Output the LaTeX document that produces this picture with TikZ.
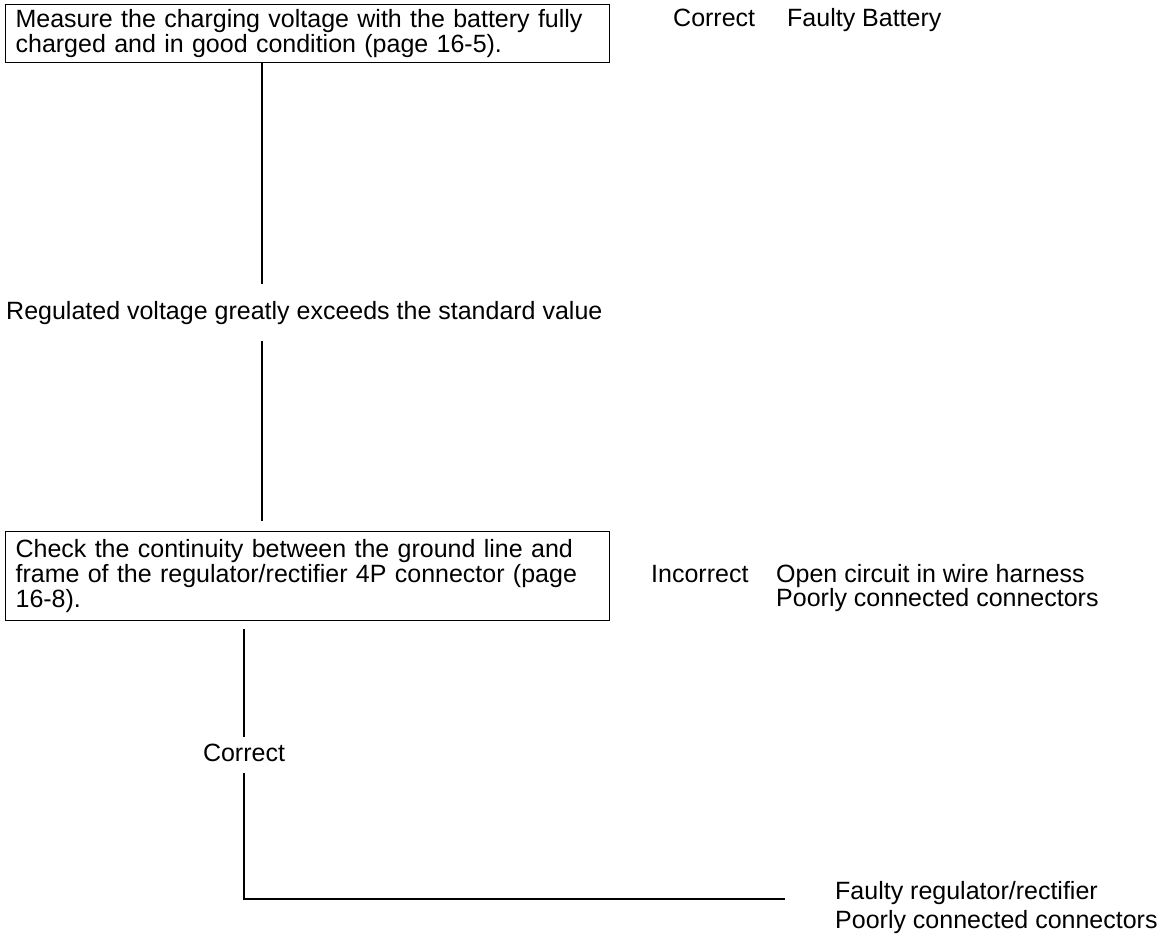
\documentclass[tikz,border=0pt]{standalone}
\usepackage{fontspec}
\setmainfont{Liberation Sans}
\begin{document}
\begin{tikzpicture}[x=1pt,y=-1pt,
  every node/.style={font=\fontsize{25}{25}\selectfont, inner sep=0pt},
  stepbox/.style={draw, line width=1.2pt, rectangle, anchor=north west,
    inner xsep=10pt, inner ysep=0pt, text width=584pt, align=left},
  txt/.style={anchor=base west},
  wire/.style={line width=1.4pt}]
\useasboundingbox (0,0) rectangle (1174,944);

% first check
\node[stepbox, text height=23pt, text depth=35pt] (b1) at (5,4)
  {Measure the charging voltage with the battery fully\\
   charged and in good condition (page 16-5).};
\node[txt] (ok1) at (673,27) {Correct};
\node[txt] (bat) at (787,27) {Faulty Battery};

% symptom
\node[txt, inner ysep=17pt] (q) at (6,319)
  {Regulated voltage greatly exceeds the standard value};

% second check
\node[stepbox, text height=26pt, text depth=63pt] (b2) at (5,531)
  {Check the continuity between the ground line and\\
   frame of the regulator/rectifier 4P connector (page\\
   16-8).};
\node[txt] (ng) at (651,582) {Incorrect};
\node[txt, align=left, font=\fontsize{25}{24.5}\selectfont] (open) at (776,606.5)
  {Open circuit in wire harness\\Poorly connected connectors};

% result of second check
\node[anchor=base, text height=24pt, text depth=12pt] (ok2) at (244,761) {Correct};
\node[txt, align=left, font=\fontsize{25}{29}\selectfont] (reg) at (835,928)
  {Faulty regulator/rectifier\\Poorly connected connectors};

% connectors
\coordinate (s1) at (262,0);
\coordinate (s2) at (244,0);
\coordinate (e) at (785,899);
\draw[wire] (b1.south -| s1) -- (q.north -| s1);
\draw[wire, shorten >=10pt] (q.south -| s1) -- (b2.north -| s1);
\draw[wire, shorten <=8pt] (b2.south -| s2) -- (ok2.north);
\draw[wire] (ok2.south) |- (e);
\end{tikzpicture}
\end{document}
